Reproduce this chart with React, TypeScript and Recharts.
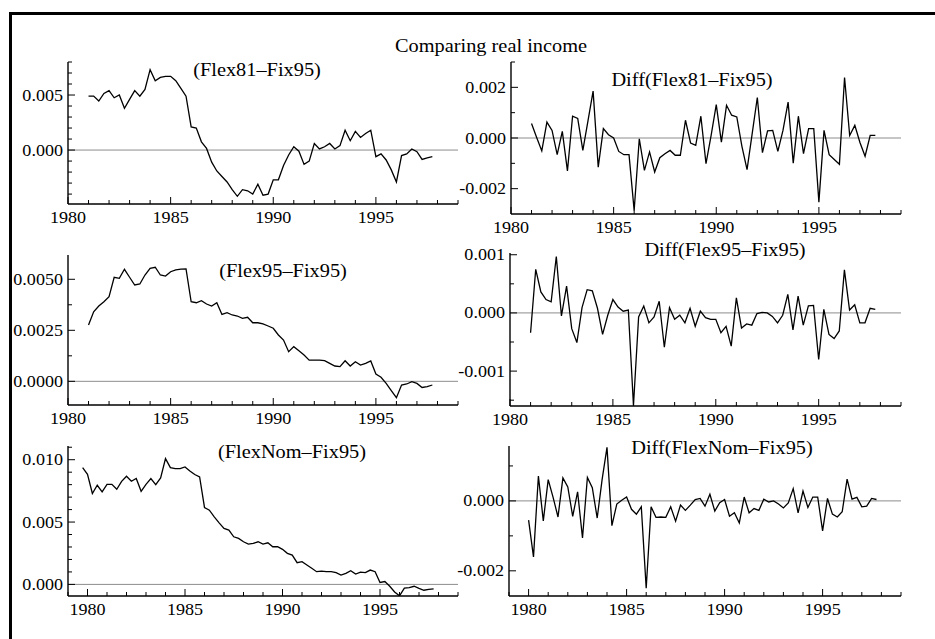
import React from "react";
import { LineChart, Line, XAxis, YAxis, ReferenceLine } from "recharts";

const FONT = '"Liberation Serif", "Times New Roman", "DejaVu Serif", serif';

// quarterly series, top/middle rows start 1981Q1, bottom level starts 1979Q4, bottom diff 1980Q1
const flex81 = [
  0.0049, 0.0049, 0.00445, 0.00515, 0.0054, 0.00475, 0.005, 0.0038, 0.0046, 0.0054,
  0.0049, 0.0055, 0.0073, 0.0063, 0.0066, 0.0067, 0.0067, 0.0063, 0.0056, 0.0049,
  0.0021, 0.002, 0.00075, 0.00015, -0.0011, -0.0019, -0.0024, -0.0029, -0.0036, -0.0042,
  -0.0036, -0.0037, -0.004, -0.0031, -0.0041, -0.004, -0.0027, -0.0027, -0.0014, -0.00045,
  0.0003, -0.0001, -0.0013, -0.001, 0.0006, 0.0001, 0.0003, 0.0006, 0.0001, 0.0004,
  0.0018, 0.00085, 0.0017, 0.00115, 0.0015, 0.0018, -0.0006, -0.00035, -0.0009, -0.0018,
  -0.0029, -0.0005, -0.00035, 0.0001, -0.00015, -0.00085, -0.0007, -0.0006,
];
const dFlex81 = [
  0.00057, 0.00002, -0.00051, 0.00063, 0.0003, -0.00066, 0.00026, -0.0013, 0.00086, 0.00077,
  -0.00049, 0.00068, 0.00185, -0.00115, 0.00037, 0.00013, 0.0, -0.00053, -0.00066, -0.00066,
  -0.00286, -0.00003, -0.00128, -0.00055, -0.00134, -0.00078, -0.00062, -0.00049, -0.00068, -0.00068,
  0.0007, -0.0002, -0.00029, 0.00086, -0.00101, 0.0001, 0.00132, -0.00016, 0.00129, 0.0009,
  0.00083, -0.00033, -0.00125, 0.00017, 0.0016, -0.00058, 0.00028, 0.0003, -0.00053, 0.0003,
  0.00142, -0.00099, 0.00086, -0.00062, 0.00037, 0.00037, -0.00253, 0.0003, -0.00066, -0.00085,
  -0.00104, 0.00239, 0.0001, 0.0005, -0.00018, -0.00072, 0.0001, 0.0001,
];
const flex95 = [
  0.00276, 0.00341, 0.00369, 0.0039, 0.00415, 0.0051, 0.00505, 0.00549, 0.0051, 0.00472,
  0.00477, 0.00521, 0.00554, 0.00559, 0.00521, 0.00516, 0.00537, 0.00546, 0.0055, 0.00551,
  0.0039, 0.00385, 0.00395, 0.00379, 0.00369, 0.00385, 0.00328, 0.00336, 0.00325, 0.0032,
  0.00309, 0.00314, 0.00287, 0.00287, 0.00281, 0.00271, 0.0026, 0.00227, 0.00202, 0.00145,
  0.0017, 0.0015, 0.00129, 0.00104, 0.00104, 0.00104, 0.00101, 0.00088, 0.00075, 0.00072,
  0.00101, 0.00075, 0.00096, 0.0008, 0.00088, 0.001, 0.00036, 0.0002, -0.0001, -0.00045,
  -0.0008, -0.00018, -0.00013, -0.00002, -0.0001, -0.0003, -0.00026, -0.00018,
];
const dFlex95 = [
  -0.00034, 0.00075, 0.00036, 0.00023, 0.00019, 0.00097, -0.00005, 0.00046, -0.00027, -0.00051,
  0.00009, 0.0004, 0.00038, 0.00008, -0.00037, -0.00004, 0.00023, 0.0001, 0.00003, 0.00005,
  -0.00159, -0.00007, 0.00012, -0.00017, -0.00007, 0.0002, -0.00059, 0.00009, -0.00011, -0.00004,
  -0.00017, 0.00008, -0.00023, 0.00003, -0.00008, -0.00011, -0.00011, -0.00034, -0.00023, -0.00057,
  0.00026, -0.00026, -0.00019, -0.00021, -0.00001, 0.00001, 0.0, -0.00006, -0.00017, -0.00004,
  0.00032, -0.00029, 0.00029, -0.00021, 0.00012, 0.00013, -0.0008, 0.00006, -0.00037, -0.00044,
  -0.00031, 0.00074, 0.00005, 0.00014, -0.00017, -0.00017, 0.00008, 0.00006,
];
const flexNom = [
  0.00937, 0.00883, 0.00729, 0.00795, 0.00742, 0.00803, 0.00803, 0.00763, 0.00827, 0.00867,
  0.00827, 0.00849, 0.00747, 0.00803, 0.00849, 0.008, 0.00854, 0.01009, 0.00937, 0.00929,
  0.00929, 0.00942, 0.0091, 0.00881, 0.00862, 0.00617, 0.00595, 0.00542, 0.00494, 0.00449,
  0.00435, 0.00382, 0.00369, 0.00342, 0.00323, 0.00329, 0.00342, 0.00323, 0.00334, 0.00302,
  0.00302, 0.00281, 0.00249, 0.00235, 0.00174, 0.00182, 0.00155, 0.00129, 0.00102, 0.00107,
  0.00102, 0.00102, 0.00094, 0.00075, 0.00089, 0.0011, 0.00083, 0.00099, 0.00094, 0.00115,
  0.00102, 0.00016, 0.00023, -0.00015, -0.00061, -0.00092, -0.0003, -0.00025, -0.00015, -0.00032,
  -0.00047, -0.0004, -0.00036,
];
const dFlexNom = [
  -0.00055, -0.0016, 0.00071, -0.00057, 0.00061, 0.0001, -0.00046, 0.00066, 0.0004, -0.00044,
  0.00026, -0.00106, 0.00067, 0.00038, -0.00049, 0.00061, 0.00153, -0.00071, -0.00009, 0.00002,
  0.00011, -0.00024, -0.00038, -0.00017, -0.0025, -0.00017, -0.00047, -0.00046, -0.00047, -0.00017,
  -0.00058, -0.00012, -0.00027, -0.00012, 0.00004, 0.00007, -0.00015, 0.00019, -0.00029, -0.00005,
  0.00004, -0.00044, -0.00034, -0.00063, 0.00011, -0.00034, -0.00022, -0.00027, 0.00005, -0.00003,
  0.0, -0.00009, -0.0002, -0.00006, 0.00035, -0.00034, 0.00028, -0.00019, 0.00011, 0.00011,
  -0.00086, 0.00007, -0.00038, -0.00046, -0.00031, 0.00062, 0.00005, 0.0001, -0.00017, -0.00015,
  0.00007, 0.00004,
];

const yearTicksTop = [1980, 1981, 1982, 1983, 1984, 1985, 1986, 1987, 1988, 1989, 1990, 1991, 1992, 1993, 1994, 1995, 1996, 1997, 1998, 1999];
const yearTicksBottom = [1979, ...yearTicksTop];
const yearLabels = [1980, 1985, 1990, 1995];

const quarterly = (start: number, vals: number[]) =>
  vals.map((v, i) => ({ t: start + i * 0.25, v }));

function makeXTick(majors: number[]) {
  return (p: any) => {
    const { x, y, payload } = p;
    const major = majors.includes(payload.value);
    return (
      <g>
        <line x1={x} y1={y} x2={x} y2={y - (major ? 7 : 4)} stroke="#000" />
        {major && (
          <text
            transform={`translate(${x} ${y + 19}) scale(1.13 1)`}
            textAnchor="middle"
            fontSize={16}
            fontFamily={FONT}
            fill="#000"
          >
            {payload.value}
          </text>
        )}
      </g>
    );
  };
}

function makeYTick(majors: number[], labels: string[]) {
  return (p: any) => {
    const { x, y, payload } = p;
    const k = majors.findIndex((m) => Math.abs(m - payload.value) < 1e-9);
    return (
      <g>
        <line x1={x} y1={y} x2={x + (k >= 0 ? 7 : 4)} y2={y} stroke="#000" />
        {k >= 0 && (
          <text
            transform={`translate(${x - 5} ${y + 5.5}) scale(1.13 1)`}
            textAnchor="end"
            fontSize={16}
            fontFamily={FONT}
            fill="#000"
          >
            {labels[k]}
          </text>
        )}
      </g>
    );
  };
}

type PanelProps = {
  box: { x: number; y: number; w: number; h: number };
  data: { t: number; v: number }[];
  xDomain: [number, number];
  xTicks: number[];
  yDomain: [number, number];
  yTicks: number[];
  yMajor: number[];
  yLabels: string[];
};

function Panel({ box, data, xDomain, xTicks, yDomain, yTicks, yMajor, yLabels }: PanelProps) {
  return (
    <div style={{ position: "absolute", left: box.x - 60, top: box.y - 15 }}>
      <LineChart
        width={box.w + 70}
        height={box.h + 50}
        data={data}
        margin={{ top: 15, right: 10, left: 0, bottom: 0 }}
      >
        <XAxis
          type="number"
          dataKey="t"
          domain={xDomain}
          ticks={xTicks}
          interval={0}
          allowDataOverflow
          height={35}
          tickSize={0}
          tickMargin={0}
          tickLine={false}
          axisLine={{ stroke: "#000", strokeWidth: 1.4 }}
          tick={makeXTick(yearLabels)}
        />
        <YAxis
          type="number"
          domain={yDomain}
          ticks={yTicks}
          interval={0}
          allowDataOverflow
          width={60}
          tickSize={0}
          tickMargin={0}
          tickLine={false}
          axisLine={{ stroke: "#000", strokeWidth: 1.4 }}
          tick={makeYTick(yMajor, yLabels)}
        />
        <ReferenceLine y={0} stroke="#8c8c8c" strokeWidth={1} />
        <Line
          type="linear"
          dataKey="v"
          stroke="#000"
          strokeWidth={1.3}
          dot={false}
          isAnimationActive={false}
        />
      </LineChart>
    </div>
  );
}

const titles = [
  { text: "Comparing real income", x: 491, y: 52 },
  { text: "(Flex81\u2013Fix95)", x: 257, y: 76 },
  { text: "Diff(Flex81\u2013Fix95)", x: 692, y: 86 },
  { text: "(Flex95\u2013Fix95)", x: 283, y: 277 },
  { text: "Diff(Flex95\u2013Fix95)", x: 725, y: 256 },
  { text: "(FlexNom\u2013Fix95)", x: 292, y: 458 },
  { text: "Diff(FlexNom\u2013Fix95)", x: 722, y: 454 },
];

export default function App() {
  return (
    <div
      style={{
        position: "relative",
        width: 935,
        height: 639,
        background: "#fff",
        overflow: "hidden",
      }}
    >
      <style>{`body{margin:0;background:#fff}`}</style>
      <div
        style={{
          position: "absolute",
          left: 9,
          top: 12,
          width: 940,
          height: 640,
          borderTop: "3px solid #000",
          borderLeft: "3px solid #000",
        }}
      />
      <Panel
        box={{ x: 68, y: 62, w: 390, h: 142 }}
        data={quarterly(1981, flex81)}
        xDomain={[1980, 1999]}
        xTicks={yearTicksTop}
        yDomain={[-0.0049, 0.008]}
        yTicks={[-0.004, -0.003, -0.002, -0.001, 0, 0.001, 0.002, 0.003, 0.004, 0.005, 0.006, 0.007, 0.008]}
        yMajor={[0, 0.005]}
        yLabels={["0.000", "0.005"]}
      />
      <Panel
        box={{ x: 511, y: 62, w: 390, h: 152 }}
        data={quarterly(1981, dFlex81)}
        xDomain={[1980, 1999]}
        xTicks={yearTicksTop}
        yDomain={[-0.003, 0.003]}
        yTicks={[-0.002, -0.001, 0, 0.001, 0.002, 0.003]}
        yMajor={[-0.002, 0, 0.002]}
        yLabels={["-0.002", "0.000", "0.002"]}
      />
      <Panel
        box={{ x: 68, y: 255, w: 390, h: 150 }}
        data={quarterly(1981, flex95)}
        xDomain={[1980, 1999]}
        xTicks={yearTicksTop}
        yDomain={[-0.00116, 0.00619]}
        yTicks={[0, 0.00125, 0.0025, 0.00375, 0.005]}
        yMajor={[0, 0.0025, 0.005]}
        yLabels={["0.0000", "0.0025", "0.0050"]}
      />
      <Panel
        box={{ x: 510, y: 253, w: 391, h: 153 }}
        data={quarterly(1981, dFlex95)}
        xDomain={[1980, 1999]}
        xTicks={yearTicksTop}
        yDomain={[-0.0016, 0.00103]}
        yTicks={[-0.0015, -0.001, -0.0005, 0, 0.0005, 0.001]}
        yMajor={[-0.001, 0, 0.001]}
        yLabels={["-0.001", "0.000", "0.001"]}
      />
      <Panel
        box={{ x: 68, y: 446, w: 390, h: 150 }}
        data={quarterly(1979.75, flexNom)}
        xDomain={[1979, 1999]}
        xTicks={yearTicksBottom}
        yDomain={[-0.00093, 0.0111]}
        yTicks={[0, 0.001, 0.002, 0.003, 0.004, 0.005, 0.006, 0.007, 0.008, 0.009, 0.01, 0.011]}
        yMajor={[0, 0.005, 0.01]}
        yLabels={["0.000", "0.005", "0.010"]}
      />
      <Panel
        box={{ x: 509, y: 446, w: 392, h: 150 }}
        data={quarterly(1980, dFlexNom)}
        xDomain={[1979, 1999]}
        xTicks={yearTicksBottom}
        yDomain={[-0.00272, 0.00157]}
        yTicks={[-0.002, -0.001, 0, 0.001]}
        yMajor={[-0.002, 0]}
        yLabels={["-0.002", "0.000"]}
      />
      <svg
        width={935}
        height={639}
        style={{ position: "absolute", left: 0, top: 0, pointerEvents: "none" }}
      >
        {titles.map((t) => (
          <text
            key={t.text}
            transform={`translate(${t.x} ${t.y}) scale(1.1 1)`}
            textAnchor="middle"
            fontSize={18.5}
            fontFamily={FONT}
            fill="#000"
          >
            {t.text}
          </text>
        ))}
      </svg>
    </div>
  );
}
